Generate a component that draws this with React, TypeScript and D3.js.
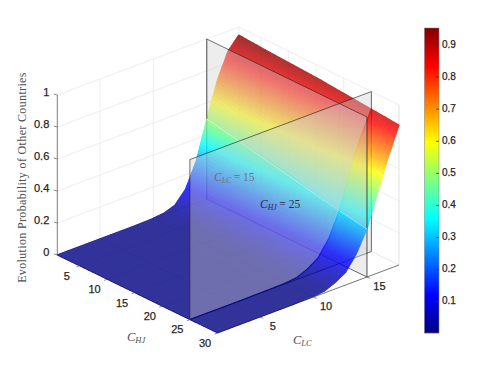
import { useEffect, useRef } from 'react';
import * as d3 from 'd3';

const chjTicks = [5, 10, 15, 20, 25, 30];
const clcTicks = [5, 10, 15];
const zTicks = [0, 0.2, 0.4, 0.6, 0.8, 1];
const zTickLabels = ['0', '0.2', '0.4', '0.6', '0.8', '1'];
const colorbarTicks = [0.1, 0.2, 0.3, 0.4, 0.5, 0.6, 0.7, 0.8, 0.9];

// surface grid: one row per chj value, one column per clc value
const chjValues = [1, 5, 10, 15, 20, 25, 30];
const clcValues = [1, 2, 3, 4, 5, 6, 7, 8, 9, 10, 11, 12, 13, 14, 15, 16, 17, 18];
const zAtChj1 = [0.001, 0.001, 0.001, 0.001, 0.001, 0.001, 0.002, 0.002, 0.003, 0.005, 0.012, 0.035, 0.11, 0.26, 0.5, 0.72, 0.875, 0.95];
const zAtChj5 = [0.001, 0.001, 0.001, 0.001, 0.001, 0.001, 0.002, 0.002, 0.003, 0.005, 0.012, 0.036, 0.105, 0.25, 0.47, 0.69, 0.86, 0.94];
const zAtChj10 = [0.001, 0.001, 0.001, 0.001, 0.001, 0.001, 0.002, 0.002, 0.003, 0.005, 0.012, 0.037, 0.1, 0.23, 0.44, 0.66, 0.83, 0.93];
const zAtChj15 = [0.001, 0.001, 0.001, 0.001, 0.001, 0.001, 0.002, 0.002, 0.003, 0.005, 0.012, 0.038, 0.095, 0.21, 0.41, 0.63, 0.8, 0.92];
const zAtChj20 = [0.001, 0.001, 0.001, 0.001, 0.001, 0.001, 0.002, 0.002, 0.003, 0.005, 0.012, 0.039, 0.09, 0.195, 0.37, 0.59, 0.77, 0.905];
const zAtChj25 = [0.001, 0.001, 0.001, 0.001, 0.001, 0.001, 0.002, 0.002, 0.003, 0.005, 0.012, 0.04, 0.085, 0.18, 0.33, 0.55, 0.74, 0.89];
const zAtChj30 = [0.001, 0.001, 0.001, 0.001, 0.001, 0.001, 0.002, 0.002, 0.003, 0.005, 0.012, 0.04, 0.08, 0.17, 0.3, 0.5, 0.7, 0.875];
const zRows = [zAtChj1, zAtChj5, zAtChj10, zAtChj15, zAtChj20, zAtChj25, zAtChj30];

const planeChj = 25;
const planeClc = 15;

// jet colormap
const jetStops = [0, 0.125, 0.375, 0.625, 0.875, 1];
const jetColors = ['#000083', '#0000ff', '#00ffff', '#ffff00', '#ff0000', '#800000'];

const xChj = d3.scaleLinear().domain([1, 30]).range([57.3, 217.5]);
const yChj = d3.scaleLinear().domain([1, 30]).range([255, 333]);
const xClc = d3.scaleLinear().domain([1, 18]).range([0, 181.5]);
const yClc = d3.scaleLinear().domain([1, 18]).range([0, -68]);
const yZ = d3.scaleLinear().domain([0, 1]).range([0, -160]);

const project = (chj: number, clc: number, z: number): [number, number] => [
  xChj(chj) + xClc(clc),
  yChj(chj) + yClc(clc) + yZ(z),
];

const cbarDomain = [0.0025, 0.953];
const cbarY = d3.scaleLinear().domain(cbarDomain).range([333, 28]);
const jetPos = d3.scaleLinear().domain(cbarDomain).range([0, 1]).clamp(true);
const jetRamp = d3.scaleLinear<string>().domain(jetStops).range(jetColors).interpolate(d3.interpolateRgb);
const jet = (z: number) => jetRamp(jetPos(z));

const rowScale = d3.scaleLinear().domain(chjValues).range(d3.range(chjValues.length));
const colScale = d3.scaleLinear().domain(clcValues).range(d3.range(clcValues.length));

// bilinear lookup in the grid
const zAt = (chj: number, clc: number) => {
  const r = rowScale(chj);
  const c = colScale(clc);
  const r0 = Math.min(Math.floor(r), chjValues.length - 2);
  const c0 = Math.min(Math.floor(c), clcValues.length - 2);
  const top = d3.interpolateNumber(zRows[r0][c0], zRows[r0][c0 + 1])(c - c0);
  const bot = d3.interpolateNumber(zRows[r0 + 1][c0], zRows[r0 + 1][c0 + 1])(c - c0);
  return d3.interpolateNumber(top, bot)(r - r0);
};

const line = d3.line();

function App() {
  const svgRef = useRef<SVGSVGElement>(null);

  useEffect(() => {
    const svg = d3.select(svgRef.current);
    svg.selectAll('*').remove();
    const tickFont = '"Liberation Sans", Arial, sans-serif';
    const mathFont = '"Liberation Serif", "Times New Roman", serif';

    const drawLine = (g: any, pts: [number, number][], color: string, width: number) =>
      g.append('path').attr('d', line(pts)).attr('fill', 'none').attr('stroke', color).attr('stroke-width', width);

    // walls and floor grid
    const grid = svg.append('g');
    const gridColor = '#e9e9e9';
    zTicks.forEach(z => {
      drawLine(grid, [project(1, 1, z), project(1, 18, z), project(30, 18, z)], gridColor, 0.8);
    });
    clcTicks.forEach(c => {
      drawLine(grid, [project(30, c, 0), project(1, c, 0), project(1, c, 1)], gridColor, 0.8);
    });
    chjTicks.forEach(h => {
      drawLine(grid, [project(h, 1, 0), project(h, 18, 0), project(h, 18, 1)], gridColor, 0.8);
    });
    drawLine(grid, [project(1, 18, 0), project(1, 18, 1)], gridColor, 0.8);
    drawLine(grid, [project(1, 18, 0), project(30, 18, 0), project(30, 18, 1)], gridColor, 0.8);
    drawLine(grid, [project(1, 1, 0), project(1, 18, 0)], gridColor, 0.8);

    // axis lines
    const axes = svg.append('g');
    const axisColor = '#6e6e6e';
    drawLine(axes, [project(1, 1, 0), project(1, 1, 1)], axisColor, 0.9);
    drawLine(axes, [project(1, 1, 0), project(30, 1, 0)], axisColor, 0.9);
    drawLine(axes, [project(30, 1, 0), project(30, 18, 0)], axisColor, 0.9);

    // piece of surface, painted back to front
    const drawSurface = (chjMin: number, chjMax: number, clcMin: number, clcMax: number) => {
      const g = svg.append('g').attr('opacity', 0.8);
      const rows = chjValues.filter(v => v >= chjMin && v <= chjMax);
      const cols = clcValues.filter(v => v >= clcMin && v <= clcMax);
      const chjSteps: number[] = [];
      d3.pairs(rows).forEach(([a, b]) => d3.range(6).forEach(i => chjSteps.push(a + ((b - a) * i) / 6)));
      chjSteps.push(rows[rows.length - 1]);
      const clcSteps: number[] = [];
      d3.pairs(cols).forEach(([a, b]) => {
        // the flat part of the sheet needs no subdivision
        const n = a < 10 ? 1 : 12;
        d3.range(n).forEach(i => clcSteps.push(a + ((b - a) * i) / n));
      });
      clcSteps.push(cols[cols.length - 1]);
      const clcPairs = d3.pairs(clcSteps).reverse();
      d3.pairs(chjSteps).forEach(([h0, h1]) => {
        clcPairs.forEach(([c0, c1]) => {
          const color = jet((zAt(h0, c0) + zAt(h1, c0) + zAt(h0, c1) + zAt(h1, c1)) / 4);
          g.append('polygon')
            .attr('points', [
              project(h0, c0, zAt(h0, c0)),
              project(h1, c0, zAt(h1, c0)),
              project(h1, c1, zAt(h1, c1)),
              project(h0, c1, zAt(h0, c1)),
            ].join(' '))
            .attr('fill', color)
            .attr('stroke', color)
            .attr('stroke-width', 1.1)
            .attr('stroke-linejoin', 'round');
        });
      });
    };

    const planeFill = '#cfcfcf';
    const planeEdge = 'rgba(35,35,35,0.8)';

    // plane clc = 15, cut at chj = 25
    const drawClcPlane = (chjMin: number, chjMax: number) => {
      svg.append('polygon')
        .attr('points', [
          project(chjMin, planeClc, 0),
          project(chjMax, planeClc, 0),
          project(chjMax, planeClc, 1),
          project(chjMin, planeClc, 1),
        ].join(' '))
        .attr('fill', planeFill)
        .attr('fill-opacity', 0.38);
      drawLine(svg, [project(chjMin, planeClc, 0), project(chjMax, planeClc, 0)], planeEdge, 0.8);
      drawLine(svg, [project(chjMin, planeClc, 1), project(chjMax, planeClc, 1)], planeEdge, 0.8);
    };

    const subLabel = (x: number, y: number, sub: string, rest: string, size: number, color: string) => {
      const t = svg.append('text')
        .attr('x', x)
        .attr('y', y)
        .attr('font-family', mathFont)
        .attr('font-size', size)
        .attr('fill', color);
      t.append('tspan').attr('font-style', 'italic').text('C');
      t.append('tspan').attr('font-style', 'italic').attr('font-size', size * 0.68).attr('dy', 2).text(sub);
      if (rest) t.append('tspan').attr('dy', -2).attr('dx', 2.5).text(rest);
    };

    // back half
    drawSurface(1, planeChj, planeClc, 18);
    drawClcPlane(1, planeChj);
    drawLine(svg, [project(1, planeClc, 0), project(1, planeClc, 1)], planeEdge, 1);
    drawSurface(1, planeChj, 1, planeClc);
    drawLine(svg, [project(1, planeClc, zAt(1, planeClc)), project(25, planeClc, zAt(25, planeClc))], 'rgba(255,255,255,0.6)', 0.9);
    subLabel(214, 181, 'LC', '= 15', 11.5, '#33333a');

    // plane chj = 25
    svg.append('polygon')
      .attr('points', [
        project(planeChj, 1, 0),
        project(planeChj, 18, 0),
        project(planeChj, 18, 1),
        project(planeChj, 1, 1),
      ].join(' '))
      .attr('fill', planeFill)
      .attr('fill-opacity', 0.38)
      .attr('stroke', planeEdge)
      .attr('stroke-width', 0.8);

    // front half
    drawSurface(planeChj, 30, planeClc, 18);
    drawClcPlane(planeChj, 30);
    drawLine(svg, [project(30, planeClc, 0), project(30, planeClc, 1)], planeEdge, 1);
    drawSurface(planeChj, 30, 1, planeClc);
    drawLine(svg, [project(25, planeClc, zAt(25, planeClc)), project(30, planeClc, zAt(30, planeClc))], 'rgba(255,255,255,0.6)', 0.9);
    subLabel(260, 207.5, 'HJ', '= 25', 11.5, '#2c2c38');

    // ticks and tick labels
    const labels = svg.append('g')
      .attr('font-family', tickFont)
      .attr('font-size', 11)
      .attr('fill', '#262626')
      .attr('stroke', '#262626')
      .attr('stroke-width', 0.25);
    zTicks.forEach((z, i) => {
      const [x, y] = project(1, 1, z);
      drawLine(svg, [[x, y], [x - 3.5, y - 1]], axisColor, 0.8);
      labels.append('text').attr('x', x - 8).attr('y', y - 1.5).attr('text-anchor', 'end').attr('dominant-baseline', 'middle').text(zTickLabels[i]);
    });
    chjTicks.forEach(h => {
      const [x, y] = project(h, 1, 0);
      drawLine(svg, [[x, y], [x - 3, y + 1.2]], axisColor, 0.8);
      labels.append('text').attr('x', x - 12.5).attr('y', y + 11).attr('text-anchor', 'middle').attr('dominant-baseline', 'middle').text(h);
    });
    clcTicks.forEach(c => {
      const [x, y] = project(30, c, 0);
      drawLine(svg, [[x, y], [x + 3, y + 1.4]], axisColor, 0.8);
      labels.append('text').attr('x', x + 12.5).attr('y', y + 10).attr('text-anchor', 'middle').attr('dominant-baseline', 'middle').text(c);
    });

    // axis titles
    subLabel(127, 341, 'HJ', '', 12.5, '#505050');
    subLabel(293, 344, 'LC', '', 12.5, '#505050');
    svg.append('text')
      .attr('transform', 'translate(26,177.5) rotate(-90)')
      .attr('text-anchor', 'middle')
      .attr('font-family', mathFont)
      .attr('font-size', 12)
      .attr('letter-spacing', 0.35)
      .attr('fill', '#505050')
      .text('Evolution Probability of Other Countries');

    // colorbar
    const bar = svg.append('g');
    d3.range(28, 333).forEach(py => {
      bar.append('rect')
        .attr('x', 424.5)
        .attr('y', py)
        .attr('width', 14.5)
        .attr('height', 1.2)
        .attr('fill', jet(cbarY.invert(py + 0.5)));
    });
    bar.append('rect')
      .attr('x', 424.5)
      .attr('y', 28)
      .attr('width', 14.5)
      .attr('height', 305)
      .attr('fill', 'none')
      .attr('stroke', '#808080')
      .attr('stroke-width', 0.5);
    colorbarTicks.forEach(v => {
      drawLine(bar, [[436, cbarY(v)], [439, cbarY(v)]], '#333333', 0.8);
      labels.append('text')
        .attr('x', 442)
        .attr('y', cbarY(v))
        .attr('font-size', 10)
        .attr('dominant-baseline', 'middle')
        .text(d3.format('.1f')(v));
    });
  }, []);

  return (
    <svg
      ref={svgRef}
      width={498}
      height={374}
      viewBox="0 0 498 374"
      style={{ position: 'fixed', left: 0, top: 0, background: '#fff' }}
    />
  );
}

export default App;
